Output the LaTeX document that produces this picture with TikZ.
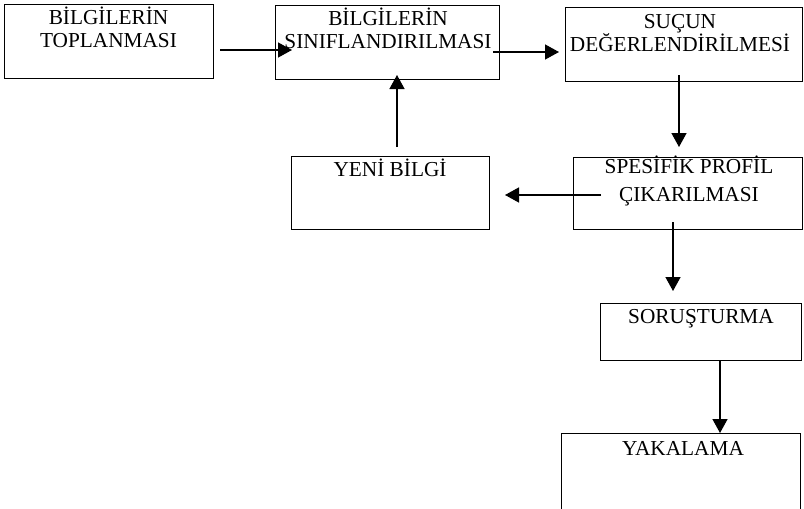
\documentclass[tikz,border=0pt]{standalone}
\usepackage{fontspec}
\setmainfont{Liberation Serif}
\usetikzlibrary{arrows.meta}
\begin{document}
\begin{tikzpicture}[x=1pt,y=-1pt,
  box/.style={draw,line width=1pt,inner sep=0pt,rectangle},
  lbl/.style={anchor=north,inner sep=0pt,align=center,font=\fontsize{21.3}{23.5}\selectfont},
  arr/.style={line width=1.4pt,-{Triangle[length=14pt,width=15pt]}}]
\useasboundingbox (0,0) rectangle (804,509);
% boxes
\node[box,minimum width=209pt,minimum height=74pt] (b1) at (108.5,41) {};
\node[box,minimum width=224pt,minimum height=74pt] (b2) at (387,42) {};
\node[box,minimum width=237pt,minimum height=74pt] (b3) at (683.5,44) {};
\node[box,minimum width=198pt,minimum height=73pt] (b7) at (390,192.5) {};
\node[box,minimum width=229pt,minimum height=72pt] (b4) at (687.5,193) {};
\node[box,minimum width=201pt,minimum height=57pt] (b5) at (700.5,331.5) {};
\node[inner sep=0pt,minimum width=238pt,minimum height=76pt] (b6) at (681,472) {};
\draw[line width=1pt] (b6.south west) -- (b6.north west) -- (b6.north east) -- (b6.south east);
% labels
\node[lbl] (t1) at (108.5,5) {\rule{0pt}{19pt}BİLGİLERİN\\TOPLANMASI};
\node[lbl] (t2) at (388,6) {\rule{0pt}{19pt}BİLGİLERİN\\SINIFLANDIRILMASI};
\node[lbl] (t3) at (680,9) {\rule{0pt}{19pt}SUÇUN\\DEĞERLENDİRİLMESİ};
\node[lbl] (t7) at (390,157) {\rule{0pt}{19pt}YENİ BİLGİ};
\node[lbl,font=\fontsize{21.3}{28.5}\selectfont] (t4) at (689,154) {\rule{0pt}{19pt}SPESİFİK PROFİL\\ÇIKARILMASI};
\node[lbl] (t5) at (701,304) {\rule{0pt}{19pt}SORUŞTURMA};
\node[lbl] (t6) at (683,436) {\rule{0pt}{19pt}YAKALAMA};
% connector end points
\coordinate (a1s) at (220,50);
\coordinate (a1e) at (292,50);
\coordinate (a2s) at (493,52);
\coordinate (a2e) at (559,52);
\coordinate (a3s) at (679,75);
\coordinate (a3e) at (679,147);
\coordinate (a4s) at (397,147);
\coordinate (a4e) at (397,75);
\coordinate (a5s) at (601,195);
\coordinate (a5e) at (505,195);
\coordinate (a6s) at (673,222);
\coordinate (a6e) at (673,291);
\coordinate (a7s) at (720,360);
\coordinate (a7e) at (720,433);
% arrows
\draw[arr] (a1s) -- (a1e);
\draw[arr] (a2s) -- (a2e);
\draw[arr] (a3s) -- (a3e);
\draw[arr] (a4s) -- (a4e);
\draw[arr] (a5s) -- (a5e);
\draw[arr] (a6s) -- (a6e);
\draw[arr] (a7s) -- (a7e);
\end{tikzpicture}
\end{document}
